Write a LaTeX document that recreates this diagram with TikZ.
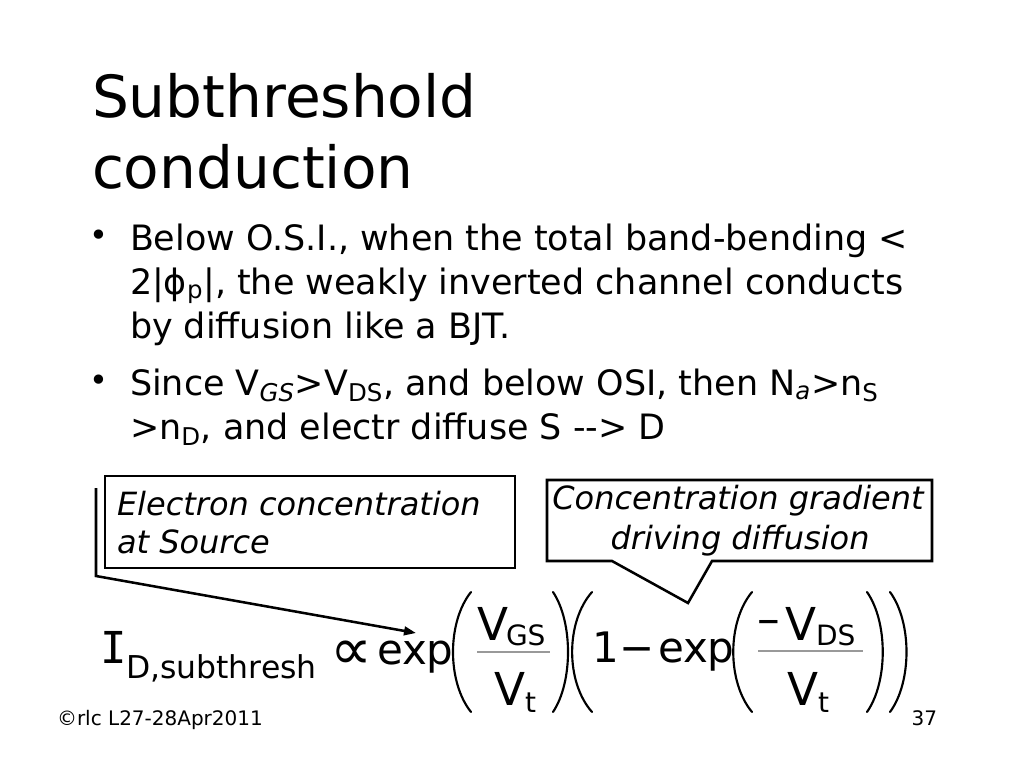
\documentclass[tikz,border=0pt]{standalone}
\usepackage{fontspec}
\setmainfont{DejaVu Sans}
\newfontfamily\monofam{DejaVu Sans Mono}
\usetikzlibrary{arrows.meta}
\begin{document}
\begin{tikzpicture}[x=0.75pt,y=-0.75pt,
  txt/.style={inner sep=0pt, outer sep=0pt, anchor=base west},
  titletxt/.style={txt, font=\fontsize{43.6}{50}\selectfont},
  body/.style={txt, font=\fontsize{26.2}{30}\selectfont},
  bul/.style={inner sep=0pt, anchor=center, font=\fontsize{24}{26}\selectfont},
  boxtxt/.style={inner sep=0pt, outer sep=0pt, font=\fontsize{24}{28}\selectfont\itshape},
  frame/.style={draw=black, line width=1.9pt},
  eqbig/.style={txt, font=\fontsize{31.5}{36}\selectfont},
  eqV/.style={txt, font=\fontsize{34}{40}\selectfont},
  eqsub/.style={txt, font=\fontsize{21}{24}\selectfont},
  fracbar/.style={draw=black!40, line width=1.4pt},
  paren/.style={draw=black, line width=1.6pt, line cap=round},
  foot/.style={txt, font=\fontsize{15}{18}\selectfont}
]
\useasboundingbox (0,0) rectangle (1024,768);
\fill[white] (0,0) rectangle (1024,768);

% title
\node[titletxt] (t1) at (92,117) {Subthreshold};
\node[titletxt] (t2) at (92,188) {conduction};

% bullets
\node[bul] (d1) at (99,238) {•};
\node[body] (b1a) at (130,250) {Below O.S.I., when the total band-bending <};
\node[body] (b1b) at (130,294) {2|ϕ\textsubscript{p}|, the weakly inverted channel conducts};
\node[body] (b1c) at (130,338) {by diffusion like a BJT.};
\node[bul] (d2) at (99,383) {•};
\node[body] (b2a) at (130,395) {Since V\textsubscript{\textit{GS}}>V\textsubscript{DS}, and below OSI, then N\textsubscript{\textit{a}}>n\textsubscript{S}};
\node[body] (b2b) at (130,439) {>n\textsubscript{D}, and electr diffuse S -{}-{}> D};

% callout 1
\node[frame, minimum width=307.5pt, minimum height=69pt, inner sep=0pt] (box1) at (310,522) {};
\node[boxtxt, anchor=base west] (c1a) at (117,515) {Electron concentration};
\node[boxtxt, anchor=base west] (c1b) at (117,553) {at Source};
\coordinate (bartop) at (96,488);
\coordinate (barbot) at (96,576);
\coordinate (tip1) at (416,633);
\draw[line width=1.9pt, -{Triangle[length=9pt,width=6.5pt]}] (bartop) -- (barbot) -- (tip1);

% callout 2
\coordinate (r2a) at (547,480);
\coordinate (r2b) at (932,480);
\coordinate (r2c) at (932,561);
\coordinate (w2r) at (712,561);
\coordinate (tip2) at (688,603);
\coordinate (w2l) at (612,561);
\coordinate (r2d) at (547,561);
\draw[frame, line join=miter] (r2a) -- (r2b) -- (r2c) -- (w2r) -- (tip2) -- (w2l) -- (r2d) -- cycle;
\node[boxtxt, anchor=base] (c2a) at (738,509) {Concentration gradient};
\node[boxtxt, anchor=base] (c2b) at (740,549) {driving diffusion};

% equation
\node[txt, font=\monofam\fontsize{33}{40}\selectfont] (I) at (100,663) {I};
\node[txt, font=\fontsize{23.6}{28}\selectfont] (Isub) at (126,678) {D,subthresh};
\node[inner sep=0pt, anchor=center, font=\fontsize{44}{48}\selectfont] (prop) at (351,655) {∝};
\node[eqbig] (exp1) at (377,664) {exp};

\draw[paren] (471,592) .. controls (447,622) and (447,682) .. (471,712);
\node[eqV] (n1V) at (477,640) {V};
\node[eqsub] (n1s) at (506,645) {GS};
\coordinate (f1l) at (477,652);
\coordinate (f1r) at (550,652);
\draw[fracbar] (f1l) -- (f1r);
\node[eqV] (d1V) at (494,705) {V};
\node[eqsub] (d1t) at (525,712) {t};
\draw[paren] (553,592) .. controls (573,622) and (573,682) .. (553,712);

\draw[paren] (592,592) .. controls (565.5,622) and (565.5,682) .. (592,712);
\node[eqbig] (one) at (592,662) {1};
\node[eqbig] (minus1) at (619,662) {−};
\node[eqbig] (exp2) at (658,662) {exp};
\draw[paren] (752,592) .. controls (727,622) and (727,682) .. (752,712);
\node[eqV] (minus2) at (757,634) {–};
\node[eqV] (n2V) at (785,640) {V};
\node[eqsub] (n2s) at (816,645) {DS};
\coordinate (f2l) at (758,651);
\coordinate (f2r) at (863,651);
\draw[fracbar] (f2l) -- (f2r);
\node[eqV] (d2V) at (787,705) {V};
\node[eqsub] (d2t) at (818,712) {t};
\draw[paren] (867,592) .. controls (888,622) and (888,682) .. (867,712);
\draw[paren] (890,592) .. controls (912,622) and (912,682) .. (890,712);

% footer
\node[foot] (f1) at (57,725) {©rlc L27-28Apr2011};
\node[foot, anchor=base east] (f2) at (937,725) {37};
\end{tikzpicture}
\end{document}
